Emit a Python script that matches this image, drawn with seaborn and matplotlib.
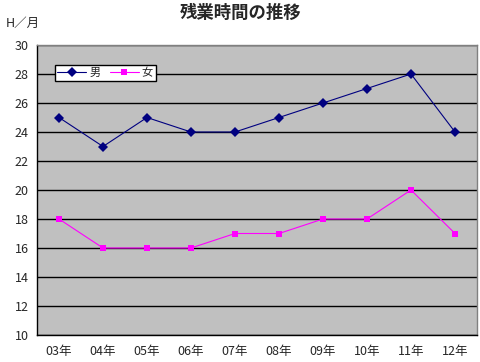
import pandas as pd
import matplotlib.pyplot as plt
import seaborn as sns

years = ['03年', '04年', '05年', '06年', '07年', '08年', '09年', '10年', '11年', '12年']
male = [25, 23, 25, 24, 24, 25, 26, 27, 28, 24]
female = [18, 16, 16, 16, 17, 17, 18, 18, 20, 17]

df = pd.DataFrame({
    'pos': list(range(len(years))) * 2,
    'hours': male + female,
    'sex': ['男'] * len(years) + ['女'] * len(years),
})

sns.set_style('white')
plt.rcParams['font.family'] = ['Noto Sans CJK JP', 'DejaVu Sans']

fig = plt.figure(figsize=(4.81, 3.62), dpi=100)
ax = fig.add_axes([37 / 481, 27 / 362, 440 / 481, 290 / 362])
ax.set_facecolor('#c0c0c0')

sns.lineplot(data=df, x='pos', y='hours', hue='sex', style='sex',
             palette={'男': '#000080', '女': '#ff00ff'},
             markers={'男': 'D', '女': 's'}, dashes=False,
             markersize=5, markeredgewidth=0, linewidth=0.8, ax=ax, zorder=3)

ax.set_xlim(-0.5, len(years) - 0.5)
ax.set_ylim(10, 30)
ax.set_yticks(range(10, 31, 2))
ax.set_xticks(range(len(years)))
ax.set_xticklabels(years)
ax.set_xticks([i + 0.5 for i in range(len(years))], minor=True)
ax.tick_params(axis='x', which='major', length=0, pad=7, labelsize=9)
ax.tick_params(axis='x', which='minor', length=3, direction='in', width=0.8)
ax.tick_params(axis='y', length=0, pad=6, labelsize=9)
ax.grid(axis='y', color='black', linewidth=1.0)
ax.set_axisbelow(True)
ax.set_xlabel('')
ax.set_ylabel('')

for s in ['left', 'bottom']:
    ax.spines[s].set_color('black')
    ax.spines[s].set_linewidth(1.0)
for s in ['top', 'right']:
    ax.spines[s].set_color('#808080')
    ax.spines[s].set_linewidth(1.0)

leg = ax.legend(loc='upper left', bbox_to_anchor=(0.04, 0.93), ncol=2,
                frameon=True, fancybox=False, fontsize=8, handlelength=2.6,
                columnspacing=0.8, handletextpad=0.3, borderpad=0.25,
                borderaxespad=0)
leg.get_frame().set_edgecolor('black')
leg.get_frame().set_linewidth(1.0)
leg.get_frame().set_alpha(1)

fig.text(0.5, 0.965, '残業時間の推移', ha='center', va='center',
         fontsize=12.5, fontweight='bold')
fig.text(0.012, 0.935, 'H／月', ha='left', va='center', fontsize=9)

fig.savefig('out.png', dpi=100)
